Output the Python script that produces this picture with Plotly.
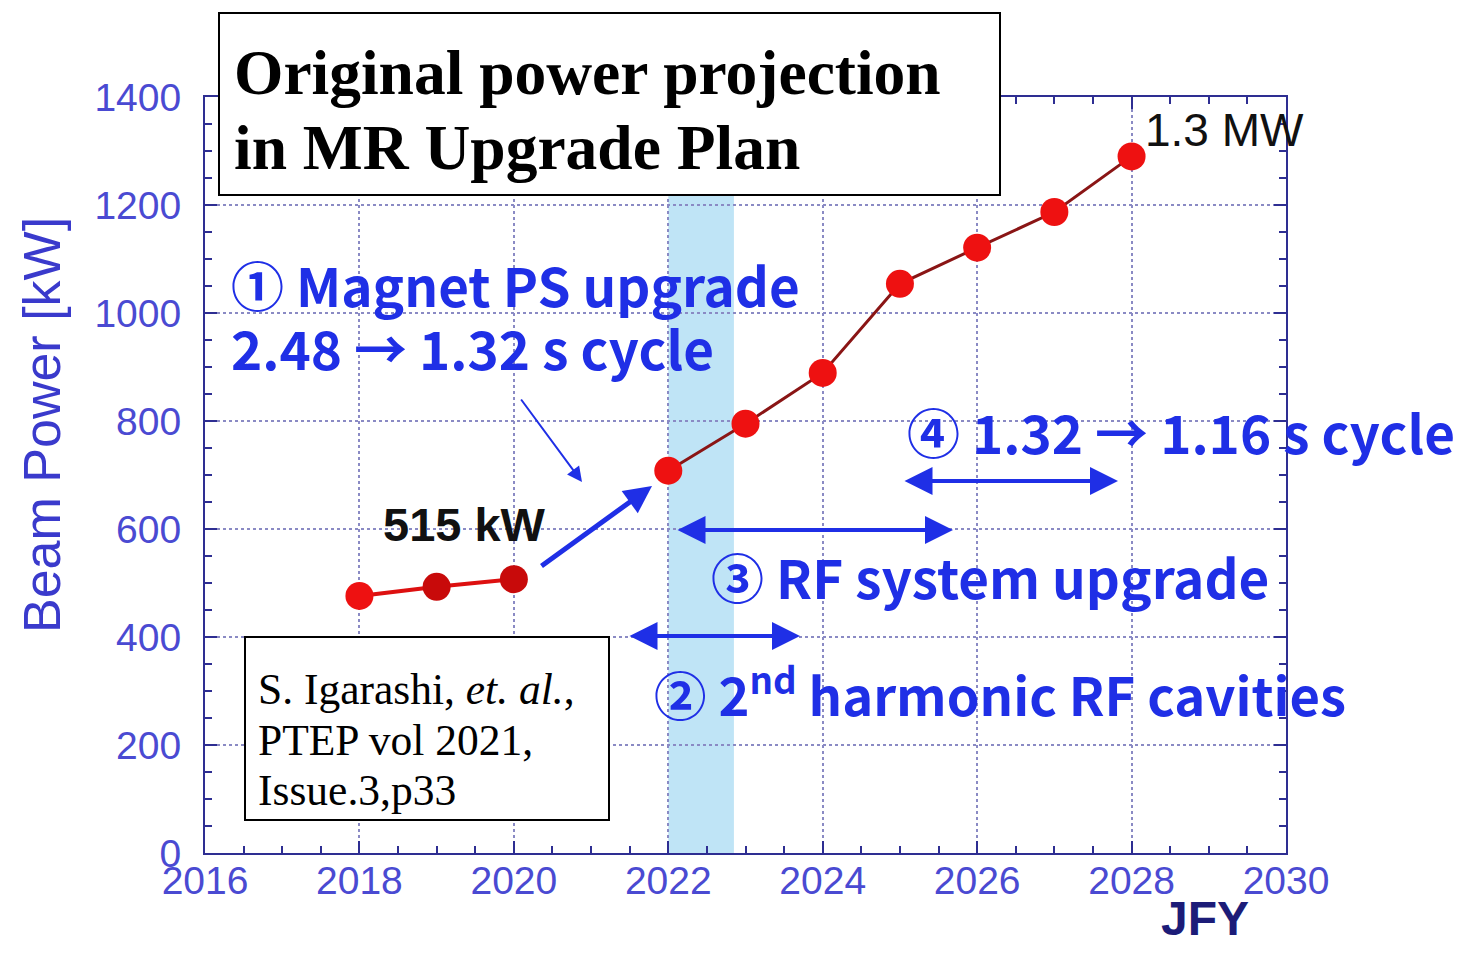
import plotly.graph_objects as go

# ---- data ----
years_a = [2018, 2019, 2020]
power_a = [476, 493, 507]
years_b = [2022, 2023, 2024, 2025, 2026, 2027, 2028]
power_b = [708, 795, 889, 1054, 1121, 1187, 1290]
x_ticks = [2016, 2018, 2020, 2022, 2024, 2026, 2028, 2030]
y_ticks = [0, 200, 400, 600, 800, 1000, 1200, 1400]

# plot-area geometry in screenshot pixels (page has an 8px body offset)
OFF = 8
L, R, T, B = 205, 1286, 97, 853
def PX(x):
    return (x - L) / (R - L)
def PY(y):
    return (B - y) / (B - T)

BLUE = "#1f2fe6"
AX = "#2e2e92"
CJK = "Noto Sans CJK JP"

fig = go.Figure()

fig.add_shape(type="rect", xref="x", yref="paper", x0=2022, x1=2022.85, y0=0, y1=1,
              fillcolor="#bfe4f6", line_width=0, layer="below")

fig.add_trace(go.Scatter(x=years_a, y=power_a, mode="lines+markers",
                         line=dict(color="#dd1010", width=4),
                         marker=dict(size=28, color=["#ee1111", "#c80a0a", "#c80a0a"]),
                         showlegend=False))
fig.add_trace(go.Scatter(x=years_b, y=power_b, mode="lines+markers",
                         line=dict(color="#8a1515", width=3),
                         marker=dict(size=28, color="#ee1111"),
                         showlegend=False))

axis_common = dict(showline=True, linecolor=AX, linewidth=2, mirror="allticks",
                   ticks="inside", ticklen=12, tickwidth=2, tickcolor=AX,
                   showgrid=True, gridcolor="#8a8ac4", gridwidth=1.5, griddash="dot",
                   zeroline=False,
                   tickfont=dict(family="Liberation Sans", size=39, color="#4a4ad2"))

fig.update_xaxes(range=[2016, 2030], tickvals=x_ticks, ticktext=[str(v) for v in x_ticks],
                 minor=dict(dtick=0.5, ticklen=7, tickwidth=1.5, tickcolor=AX, ticks="inside", showgrid=False),
                 ticklabelstandoff=-8, **axis_common)
fig.update_yaxes(range=[0, 1400], tickvals=y_ticks, ticktext=[str(v) for v in y_ticks],
                 minor=dict(dtick=50, ticklen=7, tickwidth=1.5, tickcolor=AX, ticks="inside", showgrid=False),
                 ticklabelstandoff=14, **axis_common)

# title box and citation box
fig.add_shape(type="rect", xref="paper", yref="paper", x0=PX(219), x1=PX(1000), y0=PY(195), y1=PY(13),
              fillcolor="white", line=dict(color="black", width=2), layer="above")
fig.add_shape(type="rect", xref="paper", yref="paper", x0=PX(245), x1=PX(609), y0=PY(820), y1=PY(637),
              fillcolor="white", line=dict(color="black", width=2), layer="above")

ann = []
def text(x, y, t, size, color=BLUE, family=CJK, xanchor="left", **kw):
    ann.append(dict(xref="paper", yref="paper", x=PX(x), y=PY(y), text=t, showarrow=False,
                    xanchor=xanchor, yanchor="middle", align="left",
                    font=dict(family=family, size=size, color=color), **kw))

text(232, 72, "<b>Original power projection</b>", 63.5, color="black", family="Liberation Serif")
text(232, 147, "<b>in MR Upgrade Plan</b>", 63.5, color="black", family="Liberation Serif")
text(256, 689, "S. Igarashi, <i>et. al.</i>,", 43.5, color="black", family="Liberation Serif")
text(256, 740, "PTEP vol 2021,", 43.5, color="black", family="Liberation Serif")
text(256, 790, "Issue.3,p33", 43.5, color="black", family="Liberation Serif")
text(229, 284, "<b>① Magnet PS upgrade</b>", 53)
text(229, 347, "<b>2.48 → 1.32 s cycle</b>", 53)
text(905, 431, "<b>④ 1.32 → 1.16 s cycle</b>", 53)
text(709, 576, "<b>③ RF system upgrade</b>", 53)
text(652, 691, "<b>② 2<sup>nd</sup> harmonic RF cavities</b>", 52.5)
text(381, 524, "<b>515 kW</b>", 47, color="#111111", family="Liberation Sans")
text(1143, 130, "1.3 MW", 46, color="#111111", family="Liberation Sans")
text(1205, 918, "<b>JFY</b>", 48, color="#1c1c78", family="Liberation Sans", xanchor="center")
text(42, 425, "Beam Power [kW]", 52, color="#3a3acc", family="Liberation Sans", xanchor="center",
     textangle=-90)

def dx(p):
    return 2016 + (p - L) / (R - L) * 14
def dy(p):
    return (B - p) / (B - T) * 1400

def arrow(x0, y0, x1, y1, width, both=False, size=1.0):
    ann.append(dict(xref="x", yref="y", axref="x", ayref="y",
                    x=dx(x1), y=dy(y1), ax=dx(x0), ay=dy(y0), text="", showarrow=True,
                    arrowhead=2, arrowsize=size, arrowwidth=width, arrowcolor=BLUE,
                    arrowside="end+start" if both else "end"))

arrow(520, 398, 582, 482, 2, size=1.5)
arrow(540, 567, 652, 486, 5, size=1.1)
arrow(628, 636, 800, 636, 4, both=True, size=1.4)
arrow(676, 530, 953, 530, 4, both=True, size=1.4)
arrow(903, 481, 1118, 481, 4, both=True, size=1.4)

W, H = 1461, 953
fig.update_layout(annotations=ann, width=W, height=H,
                  margin=dict(l=L - OFF, r=W - (R - OFF), t=T - OFF, b=H - (B - OFF)),
                  paper_bgcolor="white", plot_bgcolor="white", showlegend=False)

fig.write_html("out.html")
